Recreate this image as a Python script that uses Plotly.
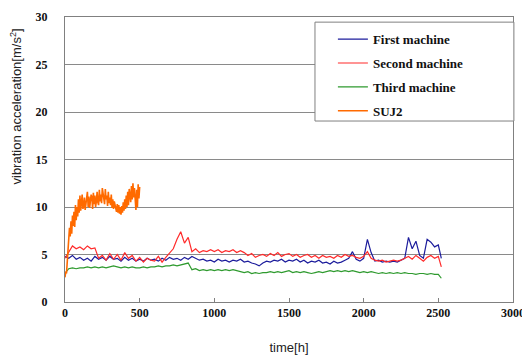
import plotly.graph_objects as go

# ---------------- data ----------------
time_h = list(range(0, 2525, 25)) + [2520]

first_machine = [
    4.8, 4.6, 4.9, 4.5, 4.7, 4.4, 4.6, 4.3, 4.8, 4.5, 4.7, 4.4, 4.8, 4.5, 4.6, 4.3, 4.7, 4.4, 4.6, 4.3,
    4.5, 4.3, 4.6, 4.4, 4.5, 4.3, 4.6, 4.4, 4.7, 4.5, 4.6, 4.4, 4.7, 4.5, 4.8, 4.6, 4.4, 4.5, 4.3, 4.4,
    4.2, 4.5, 4.3, 4.4, 4.2, 4.4, 4.3, 4.5, 4.2, 4.3, 4.1, 4.0, 3.8, 4.1, 4.3, 4.2, 4.4, 4.3, 4.5, 4.2,
    4.4, 4.3, 4.5, 4.2, 4.4, 4.1, 4.3, 4.2, 4.4, 4.1, 4.2, 4.0, 4.3, 4.1, 4.2, 4.4, 4.6, 5.3, 4.5, 4.3,
    4.6, 6.6, 5.2, 4.3, 4.4, 4.2, 4.3, 4.2, 4.3, 4.2, 4.4, 4.6, 6.8, 5.6, 6.4, 4.9, 4.6, 6.6, 6.3, 5.8,
    6.0, 4.6,
]

second_machine = [
    4.6, 5.3, 5.9, 5.6, 5.8, 5.5, 5.9, 5.6, 5.7, 4.6, 4.9, 4.4, 5.1, 4.5, 5.0, 4.4, 5.2, 4.6, 4.9, 4.3,
    4.7, 4.2, 4.6, 4.4, 4.3, 4.8, 4.2, 4.7, 5.1, 5.6, 6.6, 7.4, 6.2, 6.8, 5.3, 5.6, 5.2, 5.4, 5.3, 5.5,
    5.3, 5.5, 5.2, 5.4, 5.3, 5.5, 5.2, 5.4, 5.2, 4.9, 5.1, 4.7, 4.9, 5.0, 4.8, 5.1, 4.9, 5.2, 4.8, 5.0,
    5.1, 4.8, 5.0, 4.7, 4.9, 5.0, 4.7, 4.9, 4.6, 4.9, 4.7, 4.8, 4.6, 4.9, 4.7, 5.0, 4.8, 4.9, 4.7, 4.6,
    4.8, 5.3, 4.6, 4.4, 4.3, 4.4, 4.2, 4.3, 4.4, 4.3, 4.4, 4.6, 4.8, 4.5, 4.9, 4.6, 4.3, 4.7, 4.9, 4.6,
    4.8, 3.7,
]

third_machine = [
    3.0, 3.5, 3.6, 3.5, 3.6, 3.6, 3.7, 3.6, 3.7, 3.6, 3.7, 3.6, 3.7, 3.8, 3.7, 3.6, 3.7, 3.6, 3.7, 3.6,
    3.6, 3.7, 3.6, 3.7, 3.7, 3.8, 3.7, 3.8, 3.8, 3.9, 3.8, 3.9, 4.0, 4.1, 3.4, 3.5, 3.3, 3.4, 3.3, 3.4,
    3.3, 3.4, 3.3, 3.4, 3.3, 3.4, 3.3, 3.2, 3.1, 3.2, 3.0, 3.1, 3.0, 3.1, 3.1, 3.2, 3.1, 3.2, 3.1, 3.2,
    3.3, 3.1, 3.2, 3.1, 3.2, 3.1, 3.0, 3.1, 3.2, 3.1, 3.2, 3.3, 3.2, 3.3, 3.2, 3.3, 3.2, 3.3, 3.2, 3.1,
    3.2, 3.1, 3.2, 3.1, 3.0, 3.1, 3.0, 3.1, 3.0, 3.1, 3.0, 3.1, 3.0, 3.0, 2.9, 3.0, 3.0, 2.9, 3.0, 2.9,
    2.9, 2.5,
]

suj2_time_h = list(range(0, 505, 5))
suj2 = [
    2.6, 3.2, 3.0, 4.0, 5.5, 6.3, 7.8, 6.9, 8.5, 7.2, 9.1, 8.0, 9.5, 7.9, 10.2, 8.6, 10.0, 9.0, 10.8, 9.4,
    11.2, 9.6, 10.9, 11.3, 9.8, 10.1, 11.0, 9.7, 10.3, 11.4, 11.6, 10.0, 11.1, 9.9, 10.5, 11.3, 11.0, 9.8, 11.5, 10.3,
    11.2, 10.0, 10.6, 11.6, 10.5, 10.2, 11.8, 10.6, 11.3, 10.4, 12.0, 11.4, 10.7, 10.3, 11.9, 10.8, 11.2, 10.1, 11.6, 10.4,
    11.0, 10.2, 11.3, 9.9, 10.8, 9.8, 10.6, 10.1, 9.6, 9.5, 10.3, 9.4, 10.2, 9.3, 10.0, 9.2, 10.1, 9.4, 10.5, 9.6,
    10.8, 9.8, 11.2, 10.0, 11.6, 10.2, 11.9, 11.1, 10.5, 12.2, 10.8, 12.5, 11.0, 12.0, 10.3, 9.7, 11.8, 10.0, 12.4, 10.9,
    12.1,
]

series_names = ["First machine", "Second machine", "Third machine", "SUJ2"]
series_colors = ["#1c1c9c", "#ff2a2a", "#2e9a2e", "#ff6a00"]

x_ticks = [0, 500, 1000, 1500, 2000, 2500, 3000]
y_ticks = [0, 5, 10, 15, 20, 25, 30]

# ---------------- figure ----------------
fig = go.Figure()
xs = [time_h, time_h, time_h, suj2_time_h]
ys = [first_machine, second_machine, third_machine, suj2]
widths = [1.2, 1.2, 1.2, 1.6]
for i, (name, color) in enumerate(zip(series_names, series_colors)):
    fig.add_trace(go.Scatter(
        x=xs[i], y=ys[i], mode="lines", name=name,
        line=dict(color=color, width=widths[i]),
        legendgroup=name,
    ))

serif = "Liberation Serif, Times New Roman, serif"
sans = "Liberation Sans, Arial, sans-serif"

fig.update_layout(
    width=522, height=356,
    margin=dict(l=57, r=17, t=9, b=62, autoexpand=False),
    paper_bgcolor="white", plot_bgcolor="white",
    showlegend=True,
    legend=dict(
        x=0.598, y=0.975, xanchor="left", yanchor="top",
        bgcolor="rgba(0,0,0,0)", borderwidth=0,
        font=dict(family=serif, size=13, color="#111111", weight="bold"),
        tracegroupgap=4, itemwidth=30,
    ),
    xaxis=dict(
        range=[0, 3000], tickvals=x_ticks, showgrid=False, zeroline=False,
        showline=True, linecolor="#808080", linewidth=1, mirror=True,
        ticks="inside", ticklen=4, tickcolor="#808080", automargin=False,
        tickfont=dict(family=serif, size=12, color="#111111", weight="bold"),
        title=dict(text="time[h]", font=dict(family=sans, size=13, color="#222222"), standoff=23),
    ),
    yaxis=dict(
        range=[0, 30], tickvals=y_ticks, showgrid=True, gridcolor="#8a8a8a", gridwidth=1,
        zeroline=False, showline=True, linecolor="#808080", linewidth=1, mirror=True,
        ticks="", ticklabelstandoff=14, automargin=False,
        tickfont=dict(family=serif, size=12, color="#111111", weight="bold"),
    ),
    shapes=[dict(type="rect", xref="paper", yref="paper",
                 x0=0.558, x1=1.002, y0=0.635, y1=0.982,
                 line=dict(color="#808080", width=1), fillcolor="white", layer="above")],
    annotations=[dict(text="vibration acceleration[m/s<sup>2</sup>]", textangle=-90,
                      xref="paper", yref="paper", x=-0.110, y=0.685,
                      xanchor="center", yanchor="middle", showarrow=False,
                      font=dict(family=sans, size=13, color="#222222"))],
)

fig.write_html("out.html")
